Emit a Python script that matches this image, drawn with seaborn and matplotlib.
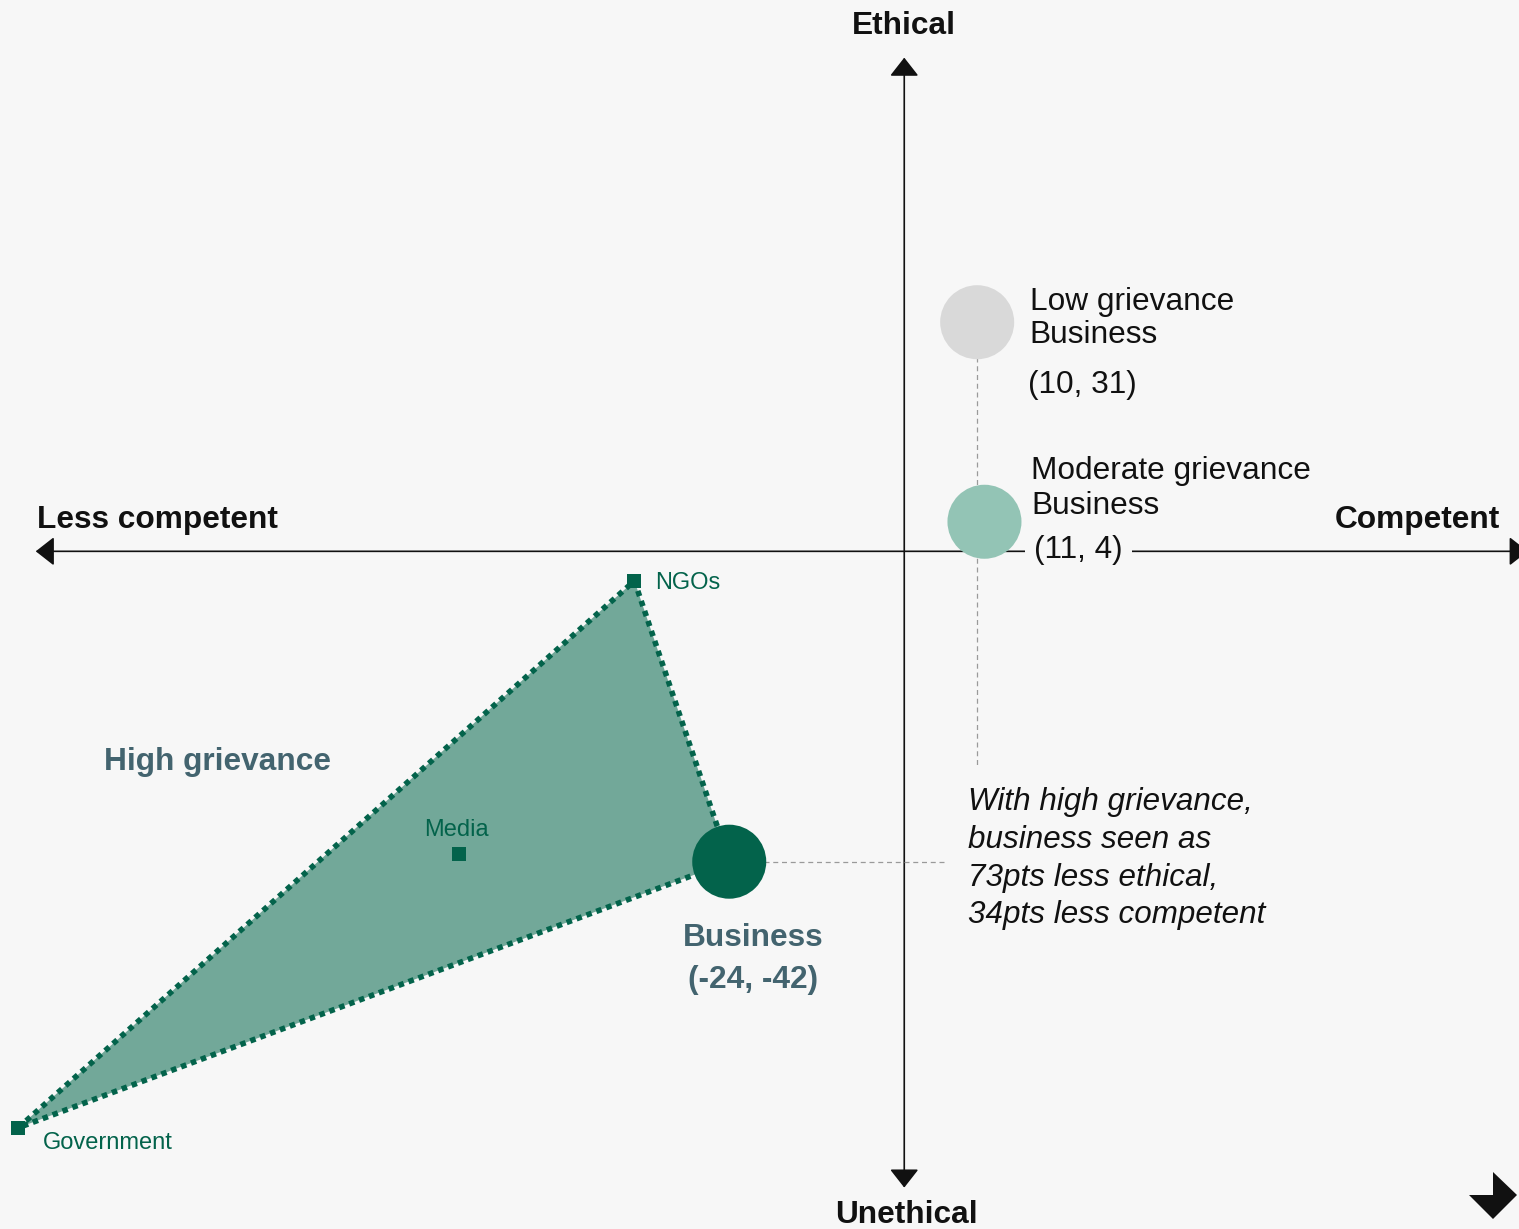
import matplotlib
matplotlib.use("Agg")
import matplotlib.pyplot as plt
import pandas as pd
import seaborn as sns
from matplotlib.patches import Polygon

# --- data (competence, ethics) ---
business_labels = ["Low grievance", "Moderate grievance", "High grievance"]
business_x = [10, 11, -24]
business_y = [31, 4, -42]

inst_names = ["NGOs", "Media", "Government"]
inst_x = [-37, -61, -121.5]
inst_y = [-4, -41, -78]

BG = "#F7F7F7"
DARK = "#03634B"
FILL = "#72A899"
MID = "#93C4B5"
LIGHT = "#D9D9D9"
SLATE = "#43646F"
FS = 22.8

sns.set_theme(style="white", rc={"axes.facecolor": BG, "figure.facecolor": BG})
plt.rcParams["font.family"] = ["Liberation Sans", "DejaVu Sans"]

fig = plt.figure(figsize=(15.19, 12.29), dpi=100)
ax = fig.add_axes([0, 0, 1, 1])
ax.set_xlim(-124.0, 84.3)
ax.set_ylim(-91.7, 74.6)
ax.axis("off")

# quadrant axes with arrow heads
arrow = dict(arrowstyle="<|-|>,head_length=11.5,head_width=9", mutation_scale=1,
             lw=1.2, color="#111111", shrinkA=0, shrinkB=0)
ax.annotate("", xy=(85.5, 0), xytext=(-119.1, 0), arrowprops=arrow, zorder=1,
            annotation_clip=False)
ax.annotate("", xy=(0, 66.8), xytext=(0, -86.1), arrowprops=arrow, zorder=1,
            annotation_clip=False)

# dashed guides
ax.plot([business_x[0], business_x[0]], [business_y[0], -29], ls=(0, (4, 3)),
        color="#9A9A9A", lw=0.9, zorder=2)
ax.plot([business_x[2], 5.6], [business_y[2], business_y[2]], ls=(0, (4, 3)),
        color="#9A9A9A", lw=0.9, zorder=2)

# high grievance triangle
tri_x = [inst_x[0], business_x[2], inst_x[2]]
tri_y = [inst_y[0], business_y[2], inst_y[2]]
ax.fill(tri_x, tri_y, color=FILL, zorder=3, lw=0)
ax.plot(tri_x + [tri_x[0]], tri_y + [tri_y[0]], color=DARK, lw=4,
        ls=(0, (1, 0.9)), zorder=4)

inst = pd.DataFrame({"x": inst_x, "y": inst_y, "name": inst_names})
sns.scatterplot(data=inst, x="x", y="y", marker="s", s=100, color=DARK,
                edgecolor="none", ax=ax, zorder=5, legend=False)

biz = pd.DataFrame({"x": business_x, "y": business_y, "group": business_labels})
sns.scatterplot(data=biz, x="x", y="y", hue="group",
                palette=[LIGHT, MID, DARK], s=2840, edgecolor="none",
                ax=ax, zorder=6, legend=False)

# axis titles
ax.text(0, 71.1, "Ethical", ha="center", va="center", fontsize=FS,
        fontweight="bold", color="#111111")
ax.text(0.3, -89.8, "Unethical", ha="center", va="center", fontsize=FS,
        fontweight="bold", color="#111111")
ax.text(-118.9, 4.3, "Less competent", ha="left", va="center", fontsize=FS,
        fontweight="bold", color="#111111")
ax.text(81.7, 4.3, "Competent", ha="right", va="center", fontsize=FS,
        fontweight="bold", color="#111111")

# business labels
ax.text(17.2, 31.5, f"{business_labels[0]}\nBusiness", ha="left", va="center",
        fontsize=FS, linespacing=1.17, color="#111111")
ax.text(17.0, 22.5, f"({business_x[0]}, {business_y[0]})", ha="left",
        va="center", fontsize=FS, color="#111111")
ax.text(17.4, 8.5, f"{business_labels[1]}\nBusiness", ha="left", va="center",
        fontsize=FS, linespacing=1.2, color="#111111")
ax.text(17.8, 0.2, f"({business_x[1]}, {business_y[1]})", ha="left",
        va="center", fontsize=FS, color="#111111", zorder=3,
        bbox=dict(boxstyle="square,pad=0.3", fc=BG, ec="none"))
ax.text(-109.8, -28.5, business_labels[2], ha="left", va="center",
        fontsize=FS, fontweight="bold", color=SLATE)
ax.text(-20.7, -55.2, f"Business\n({business_x[2]}, {business_y[2]})",
        ha="center", va="center", fontsize=FS, fontweight="bold",
        linespacing=1.53, color=SLATE)

# institution labels
ax.text(-34.1, -4.3, inst_names[0], ha="left", va="center", fontsize=17,
        color=DARK)
ax.text(-65.9, -37.7, inst_names[1], ha="left", va="center", fontsize=17,
        color=DARK)
ax.text(-118.1, -80.1, inst_names[2], ha="left", va="center", fontsize=17,
        color=DARK)

ax.text(8.7, -41.6, "With high grievance,\nbusiness seen as\n73pts less ethical,\n"
        "34pts less competent", ha="left", va="center", fontsize=22.6,
        style="italic", linespacing=1.33, color="#111111")

# corner mark
corner = Polygon([(1469 / 1519, 1 - 1195 / 1229), (1493 / 1519, 1 - 1195 / 1229),
                  (1493 / 1519, 1 - 1172 / 1229), (1517 / 1519, 1 - 1195 / 1229),
                  (1493 / 1519, 1 - 1219 / 1229)], closed=True, fc="#111111",
                 ec="none", transform=fig.transFigure)
fig.patches.append(corner)

fig.savefig("out.png", dpi=100, facecolor=BG)
